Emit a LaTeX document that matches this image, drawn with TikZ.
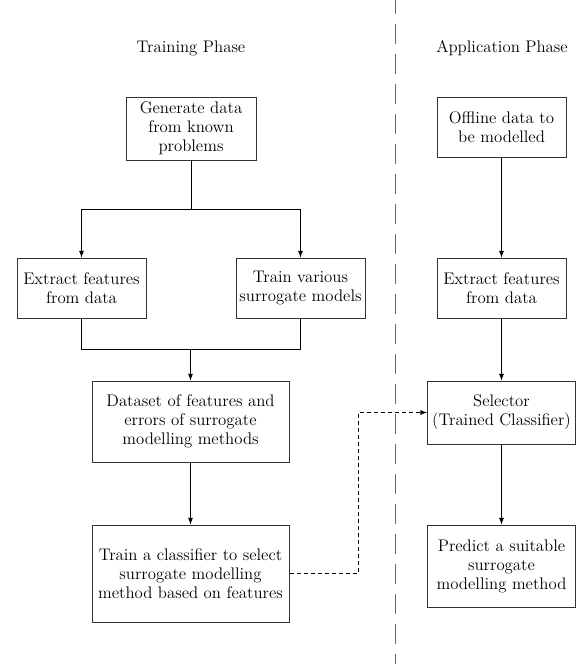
\documentclass[tikz,border=0pt]{standalone}
\usepackage{amsmath,amssymb,tikz}
\RequirePackage{color}
\definecolor{boxgrey}{rgb}{0.2,0.2,0.2}
\tikzset{
  phasebox/.style={draw=boxgrey, line width=0.75pt, align=center, inner sep=0pt},
  flow/.style={->, line width=0.75pt},
  feed/.style={->, line width=0.75pt, dash pattern=on 3pt off 2.25pt}
}

\begin{document}
\begin{tikzpicture}[>=latex, x=0.75pt, y=-0.75pt, every node/.style={font=\fontsize{12.6pt}{14.25pt}\selectfont}]

\useasboundingbox (0,0) rectangle (580,664);

% the two phases
\draw[color=black!60, line width=0.65pt, dash pattern=on 15pt off 7.5pt] (395,-6)--(395,680);
\node (traintitle) at (191,48) {Training Phase};
\node (applytitle) at (502,48) {Application Phase};

% training phase
\node[phasebox, minimum width=97.5pt, minimum height=47.25pt] (gen) at (191,128.5) {Generate data\\from known\\problems};
\node[phasebox, minimum width=96.75pt, minimum height=45pt] (featl) at (81.5,288) {Extract features\\from data};
\node[phasebox, minimum width=96.75pt, minimum height=45pt] (surr) at (300.5,288) {Train various\\surrogate models};
\node[phasebox, minimum width=147.75pt, minimum height=60.75pt] (dataset) at (190.5,421.5) {Dataset of features and\\errors of surrogate\\modelling methods};
\node[phasebox, minimum width=147.75pt, minimum height=72.75pt] (classif) at (190.5,573.5) {Train a classifier to select\\surrogate modelling\\method based on features};

\coordinate (split) at (191,209);
\coordinate (merge) at (190.5,349);
\draw[line width=0.75pt] (gen)--(split);
\draw[flow] (split)-|(featl.north);
\draw[flow] (split)-|(surr.north);
\draw[line width=0.75pt] (featl.south)|-(merge);
\draw[line width=0.75pt] (surr.south)|-(merge);
\draw[flow] (merge)--(dataset);
\draw[flow] (dataset)--(classif);

% application phase
\node[phasebox, minimum width=96.75pt, minimum height=45pt] (offline) at (501.5,127) {Offline data to\\be modelled};
\node[phasebox, minimum width=96.75pt, minimum height=45pt] (featr) at (501.5,288) {Extract features\\from data};
\node[phasebox, minimum width=111pt, minimum height=47.25pt] (selector) at (501.5,412.5) {Selector\\(Trained Classifier)};
\node[phasebox, minimum width=111pt, minimum height=61.5pt] (predict) at (501.5,566) {Predict a suitable\\surrogate\\modelling method};

\draw[flow] (offline)--(featr);
\draw[flow] (featr)--(selector);
\draw[flow] (selector)--(predict);

\coordinate (kink) at (358,573.5);
\draw[feed] (classif.east)--(kink)|-(selector.west);

\end{tikzpicture}
\end{document}
